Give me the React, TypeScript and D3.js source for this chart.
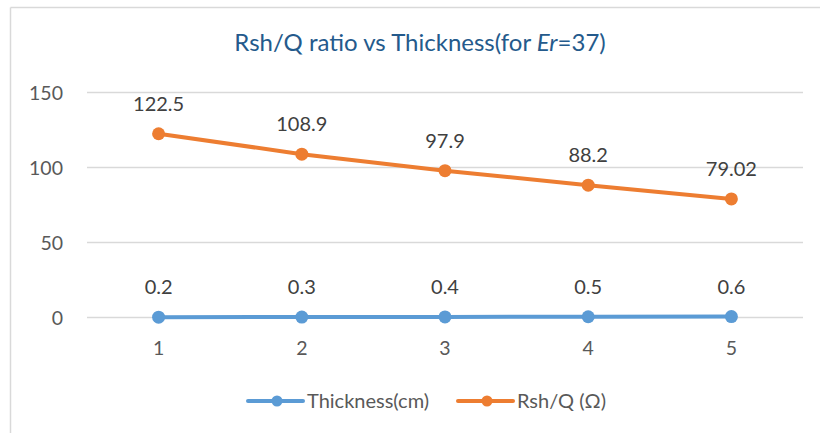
import React from "react";
import * as d3 from "d3";

const categories = ["1", "2", "3", "4", "5"];
const thickness = [0.2, 0.3, 0.4, 0.5, 0.6];
const rshq = [122.5, 108.9, 97.9, 88.2, 79.02];
const rshqLabels = ["122.5", "108.9", "97.9", "88.2", "79.02"];
const thicknessLabels = ["0.2", "0.3", "0.4", "0.5", "0.6"];
const yTicks = [0, 50, 100, 150];

const W = 820, H = 433;
const left = 87, right = 803, top = 92.5, bottom = 317.5;
const font = "Lato, 'Open Sans', sans-serif";

export default function App() {
  const x = d3.scaleBand<string>().domain(categories).range([left, right]);
  const y = d3.scaleLinear().domain([0, 150]).range([bottom, top]);
  const cx = (c: string) => (x(c) as number) + x.bandwidth() / 2;
  const line = d3.line<[number, number]>().x(d => d[0]).y(d => d[1]);
  const series = [
    { name: "Thickness(cm)", values: thickness, labels: thicknessLabels, color: "#5B9BD5" },
    { name: "Rsh/Q (Ω)", values: rshq, labels: rshqLabels, color: "#ED7D31" },
  ];
  const legend = [
    { x0: 248, color: "#5B9BD5", text: "Thickness(cm)" },
    { x0: 458, color: "#ED7D31", text: "Rsh/Q (Ω)" },
  ];
  return (
    <svg width={W} height={H} style={{ position: "absolute", left: 0, top: 0, background: "#fff" }} fontFamily={font}>
      <rect x={0} y={0} width={W} height={H} fill="#fff" />
      <line x1={10.5} y1={7.5} x2={W} y2={7.5} stroke="#d9d9d9" strokeWidth={1.5} />
      <line x1={10.5} y1={7.5} x2={10.5} y2={H} stroke="#d9d9d9" strokeWidth={1.5} />
      <text x={420} y={51} textAnchor="middle" fontSize={24} fill="#245A8C">
        Rsh/Q ratio vs Thickness(for <tspan fontStyle="italic">Er</tspan>=37)
      </text>
      {yTicks.map(t => (
        <g key={t}>
          <line x1={left} x2={right} y1={y(t)} y2={y(t)} stroke="#d9d9d9" strokeWidth={1.5} />
          <text x={63} y={y(t) + 7} textAnchor="end" fontSize={19.5} fill="#595959">{t}</text>
        </g>
      ))}
      {categories.map(c => (
        <text key={c} x={cx(c)} y={355} textAnchor="middle" fontSize={19.5} fill="#595959">{c}</text>
      ))}
      {series.map(s => (
        <g key={s.name}>
          <path d={line(categories.map((c, i) => [cx(c), y(s.values[i])]))!} fill="none" stroke={s.color} strokeWidth={4} strokeLinejoin="round" />
          {categories.map((c, i) => (
            <g key={c}>
              <circle cx={cx(c)} cy={y(s.values[i])} r={6.5} fill={s.color} />
              <text x={cx(c)} y={y(s.values[i]) - 23} textAnchor="middle" fontSize={20} fill="#404040">{s.labels[i]}</text>
            </g>
          ))}
        </g>
      ))}
      {legend.map(l => (
        <g key={l.text}>
          <line x1={l.x0} x2={l.x0 + 55} y1={401} y2={401} stroke={l.color} strokeWidth={4} strokeLinecap="round" />
          <circle cx={l.x0 + 29} cy={401} r={5.5} fill={l.color} />
          <text x={l.x0 + 59} y={408} fontSize={20} fill="#595959">{l.text}</text>
        </g>
      ))}
    </svg>
  );
}
